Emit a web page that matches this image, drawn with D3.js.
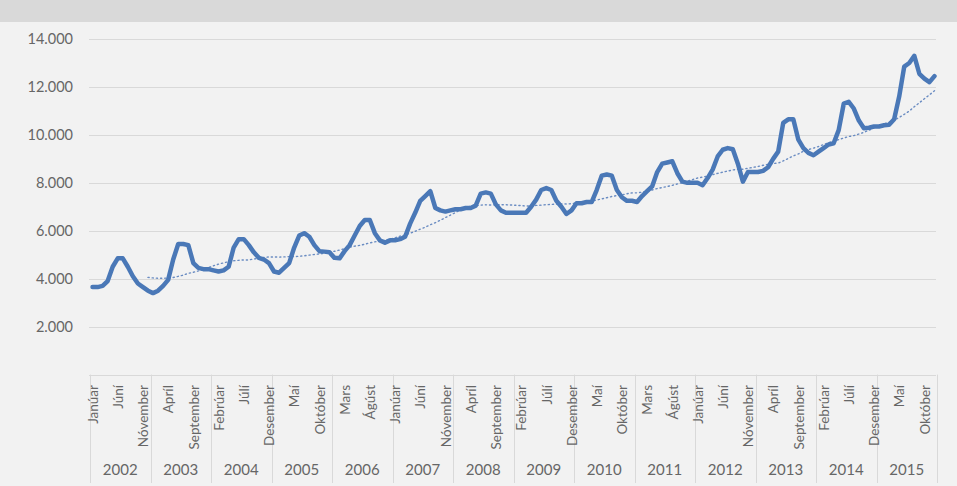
<!DOCTYPE html>
<html>
<head>
<meta charset="utf-8">
<script src="https://cdn.jsdelivr.net/npm/d3@7"></script>
<style>
  html, body { margin: 0; padding: 0; background: #f2f2f2; }
  svg { display: block; font-family: Lato, "Open Sans", sans-serif; }
</style>
</head>
<body>
<svg id="chart" width="957" height="486"></svg>
<script>
const monthNames = ["Janúar","Febrúar","Mars","Apríl","Maí","Júní","Júlí","Ágúst","September","Október","Nóvember","Desember"];
const years = [2002,2003,2004,2005,2006,2007,2008,2009,2010,2011,2012,2013,2014,2015];
const yTicks = [2000,4000,6000,8000,10000,12000,14000];
// monthly values, Jan 2002 – Dec 2015 (12 per row)
const values = [
  3650,3650,3700,3900,4500,4850,4850,4500,4100,3800,3650,3500,
  3400,3500,3700,3950,4800,5450,5450,5400,4650,4450,4400,4400,
  4350,4300,4350,4500,5300,5650,5650,5400,5100,4870,4800,4650,
  4300,4250,4450,4650,5300,5800,5900,5750,5400,5150,5130,5100,
  4870,4850,5150,5400,5800,6200,6450,6450,5900,5600,5500,5600,
  5600,5650,5750,6300,6750,7250,7450,7650,6950,6850,6800,6850,
  6900,6900,6950,6950,7050,7550,7600,7550,7100,6850,6750,6750,
  6750,6750,6750,7000,7300,7700,7780,7700,7250,7000,6700,6850,
  7150,7150,7200,7200,7700,8300,8350,8300,7700,7400,7250,7250,
  7200,7450,7650,7850,8450,8800,8850,8900,8400,8050,8000,8000,
  8000,7900,8200,8550,9100,9380,9450,9400,8800,8050,8450,8450,
  8450,8500,8650,9000,9300,10500,10650,10650,9800,9450,9250,9150,
  9300,9450,9600,9650,10200,11300,11380,11100,10600,10280,10300,10350,
  10350,10400,10420,10650,11600,12850,13000,13300,12550,12350,12200,12450
];
const maPeriod = 12; // moving-average trendline period

const svg = d3.select("#chart");
const W = 957;
const plotLeft = 90, plotRight = 937, plotTop = 39, zeroY = 374.6;

const idx = d3.range(values.length);
const x = d3.scaleBand().domain(idx).range([plotLeft, plotRight]).padding(0);
const y = d3.scaleLinear().domain([0, 14000]).range([zeroY, plotTop]);
const fmt = d3.formatLocale({decimal: ",", thousands: ".", grouping: [3], currency: ["", ""]}).format(",d");

// header bar
svg.append("rect").attr("x", 0).attr("y", 0).attr("width", W).attr("height", 22).attr("fill", "#d9d9d9");

// gridlines
svg.append("g").selectAll("line").data(yTicks).join("line")
  .attr("x1", plotLeft - 1).attr("x2", plotRight - 1)
  .attr("y1", d => Math.round(y(d)) + 0.5).attr("y2", d => Math.round(y(d)) + 0.5)
  .attr("stroke", "#d9d9d9").attr("stroke-width", 1);

// y labels
svg.append("g").selectAll("text").data(yTicks).join("text")
  .attr("x", 73).attr("y", d => y(d)).attr("dy", "0.35em")
  .attr("text-anchor", "end").attr("font-size", 14.5).attr("fill", "#666666")
  .text(d => fmt(d));

// category axis line
svg.append("line").attr("x1", plotLeft - 1).attr("x2", plotRight - 1)
  .attr("y1", Math.round(zeroY) + 0.5).attr("y2", Math.round(zeroY) + 0.5)
  .attr("stroke", "#d9d9d9");

// year separators
const yearBounds = d3.range(years.length + 1).map(k => k === years.length ? plotRight : x(k * 12));
svg.append("g").selectAll("line").data(yearBounds).join("line")
  .attr("x1", d => Math.round(d) + 0.5).attr("x2", d => Math.round(d) + 0.5)
  .attr("y1", zeroY).attr("y2", 483)
  .attr("stroke", "#d9d9d9");

// month labels every 5 months
const labelIdx = idx.filter(i => i % 5 === 0);
svg.append("g").selectAll("text").data(labelIdx).join("text")
  .attr("transform", i => `translate(${x(i) + x.bandwidth() / 2 + 0.5},385) rotate(-90)`)
  .attr("dy", "0.35em").attr("text-anchor", "end")
  .attr("font-size", 13.5).attr("fill", "#666666")
  .text(i => monthNames[i % 12]);

// year labels
svg.append("g").selectAll("text").data(years).join("text")
  .attr("x", (d, k) => (yearBounds[k] + yearBounds[k + 1]) / 2)
  .attr("y", 470).attr("dy", "0.35em").attr("text-anchor", "middle")
  .attr("font-size", 15).attr("fill", "#666666")
  .text(d => d);

// trendline: moving average
const ma = idx.filter(i => i >= maPeriod - 1).map(i => ({i, v: d3.mean(values.slice(i - maPeriod + 1, i + 1))}));
svg.append("path").datum(ma)
  .attr("fill", "none").attr("stroke", "#6a8cc2").attr("stroke-width", 1.4)
  .attr("stroke-dasharray", "1.2,3").attr("stroke-linecap", "round")
  .attr("d", d3.line().x(d => x(d.i) + x.bandwidth() / 2).y(d => y(d.v)));

// main line
svg.append("path").datum(values)
  .attr("fill", "none").attr("stroke", "#4a78b7").attr("stroke-width", 4.5)
  .attr("stroke-linejoin", "round").attr("stroke-linecap", "round")
  .attr("d", d3.line().x((d, i) => x(i) + x.bandwidth() / 2).y(d => y(d)));
</script>
</body>
</html>
